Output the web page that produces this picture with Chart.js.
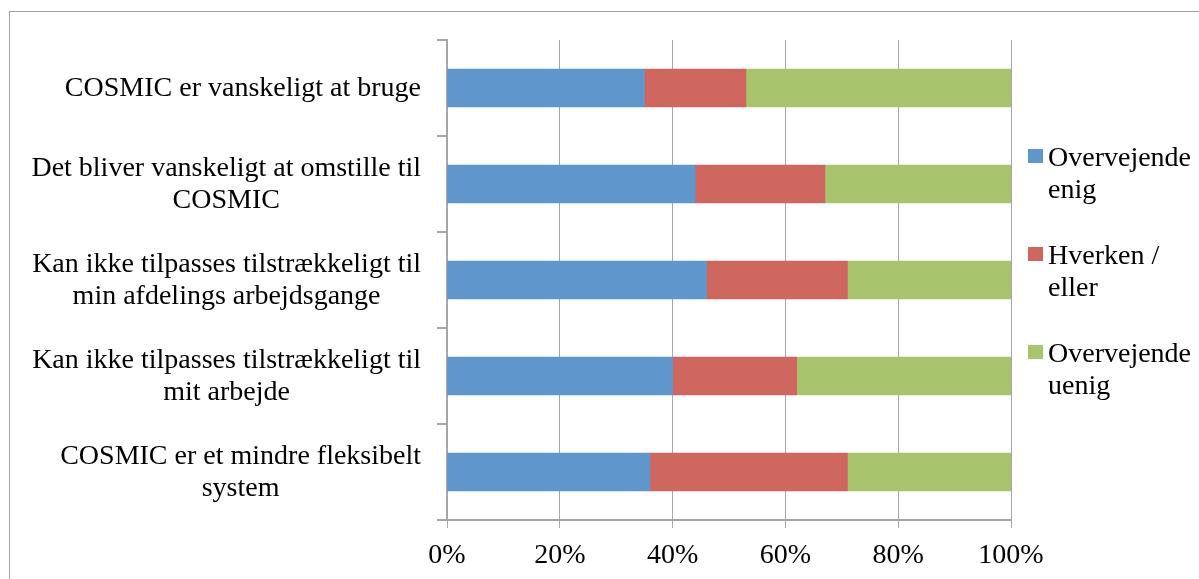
<!DOCTYPE html>
<html>
<head>
<meta charset="utf-8">
<script src="https://cdn.jsdelivr.net/npm/chart.js@4/dist/chart.umd.min.js"></script>
<style>
  html, body { margin: 0; padding: 0; background: #fff; }
  #wrap { position: relative; width: 1199px; height: 579px; overflow: hidden; }
  #frame { position: absolute; left: 9px; top: 11px; width: 1200px; height: 600px; border: 1px solid #a6a6a6; }
  #trendChart { position: absolute; left: 0; top: 0; }
</style>
</head>
<body>
<div id="wrap">
  <div id="frame"></div>
  <canvas id="trendChart" width="1199" height="579"></canvas>
</div>
<script>
// Kategorier (top -> bund), hver linje for sig
const categories = [
    ['COSMIC er vanskeligt at bruge'],
    ['Det bliver vanskeligt at omstille til', 'COSMIC'],
    ['Kan ikke tilpasses tilstrækkeligt til', 'min afdelings arbejdsgange'],
    ['Kan ikke tilpasses tilstrækkeligt til', 'mit arbejde'],
    ['COSMIC er et mindre fleksibelt', 'system']
];

// Serier (procent)
const enig = [35, 44, 46, 40, 36];
const hverken = [18, 23, 25, 22, 35];
const uenig = [47, 33, 29, 38, 29];

const seriesNames = [
    ['Overvejende', 'enig'],
    ['Hverken /', 'eller'],
    ['Overvejende', 'uenig']
];
const seriesColors = ['#5f96cb', '#cf6660', '#a8c46c'];

const xTicks = [0, 20, 40, 60, 80, 100];

(function() {
    'use strict';

    const FONT = '"Liberation Serif", "Times New Roman", serif';
    const GRID = '#a6a6a6';

    // y-akse etiketter: hver blok hoejrestillet, linjerne centreret i blokken
    const catLabels = {
        id: 'catLabels',
        afterDraw(chart) {
            const ctx = chart.ctx;
            const yScale = chart.scales.y;
            const right = chart.chartArea.left - 26;
            const lh = 32;
            ctx.save();
            ctx.font = '28px ' + FONT;
            ctx.fillStyle = '#000';
            ctx.textAlign = 'center';
            ctx.textBaseline = 'middle';
            categories.forEach(function(lines, i) {
                const yc = yScale.getPixelForValue(i);
                let maxW = 0;
                lines.forEach(function(l) { maxW = Math.max(maxW, ctx.measureText(l).width); });
                const cx = right - maxW / 2;
                lines.forEach(function(l, k) {
                    ctx.fillText(l, cx, yc + (k - (lines.length - 1) / 2) * lh + 1);
                });
            });
            ctx.restore();
        }
    };

    // legende til hoejre, med ombrudte tekster
    const sideLegend = {
        id: 'sideLegend',
        afterDraw(chart) {
            const ctx = chart.ctx;
            const x0 = chart.chartArea.right + 17;
            ctx.save();
            ctx.font = '28px ' + FONT;
            ctx.textAlign = 'left';
            ctx.textBaseline = 'middle';
            chart.data.datasets.forEach(function(ds, i) {
                const y0 = 156 + i * 98;
                ctx.fillStyle = ds.backgroundColor;
                ctx.fillRect(x0, y0 - 7, 15, 14);
                ctx.fillStyle = '#000';
                seriesNames[i].forEach(function(l, k) {
                    ctx.fillText(l, x0 + 20, y0 + 3 + k * 32);
                });
            });
            ctx.restore();
        }
    };

    const canvas = document.getElementById('trendChart');
    new Chart(canvas.getContext('2d'), {
        type: 'bar',
        data: {
            labels: categories.map(function(c) { return c.join(' '); }),
            datasets: [
                { label: seriesNames[0].join(' '), data: enig, backgroundColor: seriesColors[0] },
                { label: seriesNames[1].join(' '), data: hverken, backgroundColor: seriesColors[1] },
                { label: seriesNames[2].join(' '), data: uenig, backgroundColor: seriesColors[2] }
            ]
        },
        options: {
            indexAxis: 'y',
            responsive: false,
            animation: false,
            devicePixelRatio: 1,
            barThickness: 38,
            layout: { padding: { top: 40, right: 188, left: 0, bottom: 0 } },
            plugins: {
                legend: { display: false },
                tooltip: { enabled: false }
            },
            scales: {
                x: {
                    type: 'linear',
                    stacked: true,
                    min: 0,
                    max: 100,
                    afterBuildTicks: function(scale) {
                        scale.ticks = xTicks.map(function(v) { return { value: v }; });
                    },
                    afterFit: function(scale) { scale.height = 59; },
                    ticks: {
                        callback: function(v) { return v + '%'; },
                        font: { family: FONT, size: 28 },
                        color: '#000',
                        padding: 11,
                        maxRotation: 0
                    },
                    grid: { color: GRID, lineWidth: 1, tickLength: 8 },
                    border: { color: GRID, width: 2 }
                },
                y: {
                    type: 'category',
                    stacked: true,
                    afterFit: function(scale) { scale.width = 447; },
                    ticks: { display: false },
                    grid: { drawOnChartArea: false, offset: true, color: GRID, tickLength: 10, lineWidth: 2 },
                    border: { color: GRID, width: 2 }
                }
            }
        },
        plugins: [catLabels, sideLegend]
    });
})();
</script>
</body>
</html>
